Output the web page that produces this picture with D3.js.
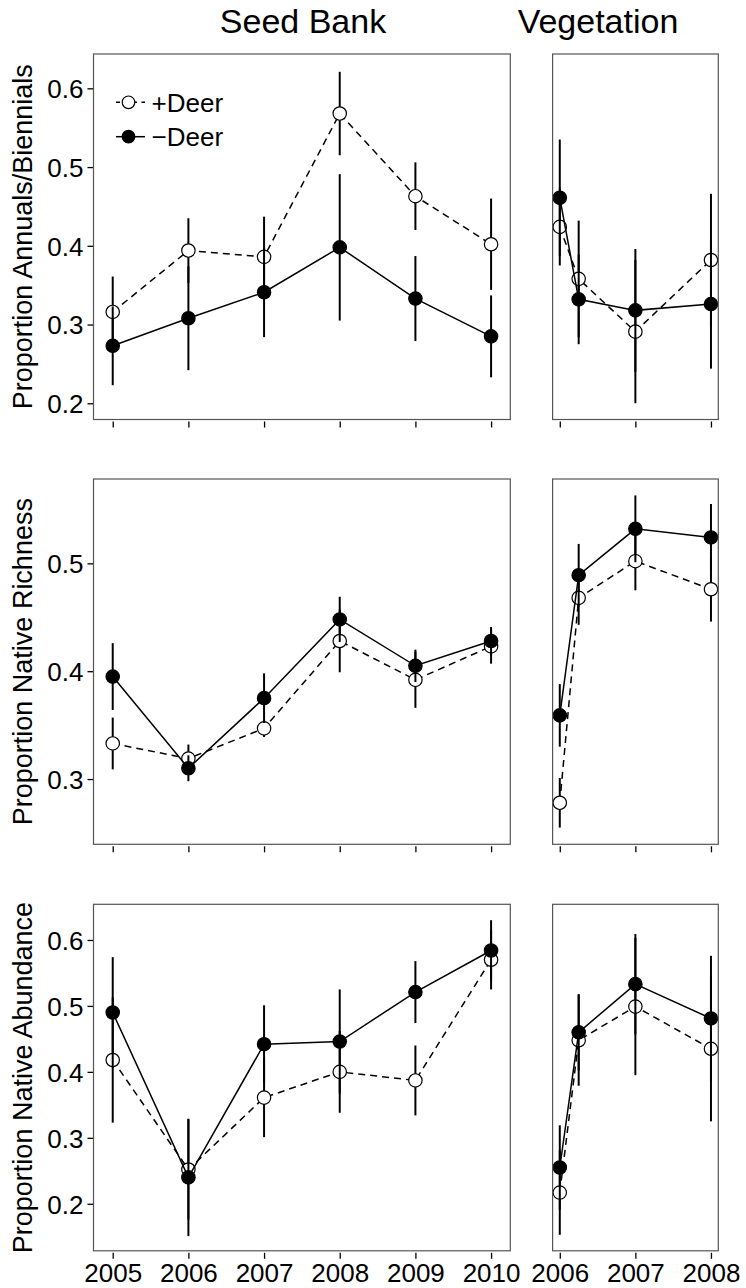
<!DOCTYPE html>
<html>
<head>
<meta charset="utf-8">
<script src="https://cdn.jsdelivr.net/npm/d3@7"></script>
<style>
  html, body { margin: 0; padding: 0; background: #fff; }
  svg { display: block; font-family: "Liberation Sans", Arial, Helvetica, sans-serif; }
</style>
</head>
<body>
<svg id="chart" width="746" height="1288"></svg>
<script>
// ---------- data ----------
const seedYears = [2005, 2006, 2007, 2008, 2009, 2010];
const vegYears = [2006, 2006.25, 2007, 2008];
const seedTickYears = [2005, 2006, 2007, 2008, 2009, 2010];
const vegTickYears = [2006, 2007, 2008];

const columnTitles = ["Seed Bank", "Vegetation"];
const rowTitles = ["Proportion Annuals/Biennials", "Proportion Native Richness", "Proportion Native Abundance"];
const rowTicks = [[0.2, 0.3, 0.4, 0.5, 0.6], [0.3, 0.4, 0.5], [0.2, 0.3, 0.4, 0.5, 0.6]];
const rowDomains = [[0.1794, 0.6436], [0.2395, 0.5782], [0.1287, 0.6541]];
const legendLabels = ["+Deer", "\u2212Deer"];

// Annuals/Biennials
const annSeedPlus = [0.316, 0.394, 0.386, 0.568, 0.463, 0.402];
const annSeedPlusSE = [0.045, 0.041, 0.051, 0.053, 0.043, 0.058];
const annSeedMinus = [0.273, 0.308, 0.341, 0.398, 0.333, 0.285];
const annSeedMinusSE = [0.050, 0.066, 0.057, 0.093, 0.054, 0.052];
const annVegPlus = [0.424, 0.358, 0.291, 0.382];
const annVegPlusSE = [0.049, 0.074, 0.091, 0.084];
const annVegMinus = [0.461, 0.332, 0.318, 0.326];
const annVegMinusSE = [0.074, 0.057, 0.078, 0.082];

// Native Richness
const richSeedPlus = [0.333, 0.319, 0.347, 0.428, 0.392, 0.423];
const richSeedPlusSE = [0.024, 0.013, 0.008, 0.029, 0.026, 0.016];
const richSeedMinus = [0.395, 0.310, 0.375, 0.448, 0.405, 0.428];
const richSeedMinusSE = [0.031, 0.012, 0.023, 0.021, 0.015, 0.013];
const richVegPlus = [0.278, 0.468, 0.502, 0.476];
const richVegPlusSE = [0.023, 0.025, 0.027, 0.030];
const richVegMinus = [0.359, 0.489, 0.532, 0.524];
const richVegMinusSE = [0.029, 0.029, 0.031, 0.031];

// Native Abundance
const abunSeedPlus = [0.418, 0.252, 0.361, 0.400, 0.387, 0.570];
const abunSeedPlusSE = [0.095, 0.076, 0.060, 0.062, 0.053, 0.045];
const abunSeedMinus = [0.490, 0.240, 0.442, 0.446, 0.521, 0.584];
const abunSeedMinusSE = [0.084, 0.089, 0.059, 0.079, 0.047, 0.046];
const abunVegPlus = [0.217, 0.448, 0.499, 0.435];
const abunVegPlusSE = [0.064, 0.069, 0.104, 0.110];
const abunVegMinus = [0.255, 0.460, 0.533, 0.481];
const abunVegMinusSE = [0.064, 0.058, 0.076, 0.095];

// ---------- layout ----------
const svg = d3.select("#chart");
const rowsY = [[54, 419.5], [479, 844.3], [904.3, 1250.8]];
const colsX = [[93.5, 510.3], [552.6, 718.3]];
const colDomains = [[2004.746, 2010.254], [2005.905, 2008.097]];
const colYears = [seedYears, vegYears];
const colTicks = [seedTickYears, vegTickYears];

const rows = [
  { seed: [annSeedPlus, annSeedPlusSE, annSeedMinus, annSeedMinusSE],
    veg: [annVegPlus, annVegPlusSE, annVegMinus, annVegMinusSE] },
  { seed: [richSeedPlus, richSeedPlusSE, richSeedMinus, richSeedMinusSE],
    veg: [richVegPlus, richVegPlusSE, richVegMinus, richVegMinusSE] },
  { seed: [abunSeedPlus, abunSeedPlusSE, abunSeedMinus, abunSeedMinusSE],
    veg: [abunVegPlus, abunVegPlusSE, abunVegMinus, abunVegMinusSE] }
];

const R = 6.7;
const FONT = 26;

function drawSeries(g, x, y, years, means, ses, filled) {
  const pts = years.map((yr, i) => ({ yr, m: means[i], se: ses[i] }));
  const line = d3.line().x(d => x(d.yr)).y(d => y(d.m));
  g.append("path").datum(pts)
    .attr("d", line).attr("fill", "none").attr("stroke", "#000")
    .attr("stroke-width", 1.5)
    .attr("stroke-dasharray", filled ? null : "7,5");
  g.selectAll(null).data(pts).enter().append("line")
    .attr("x1", d => x(d.yr)).attr("x2", d => x(d.yr))
    .attr("y1", d => y(d.m - d.se)).attr("y2", d => y(d.m + d.se))
    .attr("stroke", "#000").attr("stroke-width", 2);
  g.selectAll(null).data(pts).enter().append("circle")
    .attr("cx", d => x(d.yr)).attr("cy", d => y(d.m)).attr("r", R)
    .attr("fill", filled ? "#000" : "#fff")
    .attr("stroke", "#000").attr("stroke-width", 1.2);
}

rows.forEach((row, ri) => {
  const [top, bottom] = rowsY[ri];
  const y = d3.scaleLinear().domain(rowDomains[ri]).range([bottom, top]);
  [row.seed, row.veg].forEach((series, ci) => {
    const [left, right] = colsX[ci];
    const x = d3.scaleLinear().domain(colDomains[ci]).range([left, right]);
    const g = svg.append("g");

    const xAxis = d3.axisBottom(x).tickValues(colTicks[ci]).tickSize(6)
      .tickFormat(ri === 2 ? d3.format("d") : () => "");
    const xg = g.append("g").attr("transform", `translate(0,${bottom + 2})`).call(xAxis);
    xg.select(".domain").remove();
    xg.selectAll(".tick line").attr("stroke", "#000").attr("stroke-width", 1.3);
    xg.selectAll(".tick text").attr("font-size", FONT).attr("fill", "#000")
      .attr("font-family", "Liberation Sans, Arial, sans-serif")
      .attr("y", 0).attr("dy", "1.14em");

    if (ci === 0) {
      const yAxis = d3.axisLeft(y).tickValues(rowTicks[ri]).tickSize(6).tickPadding(4)
        .tickFormat(d3.format(".1f"));
      const yg = g.append("g").attr("transform", `translate(${left},0)`).call(yAxis);
      yg.select(".domain").remove();
      yg.selectAll(".tick line").attr("stroke", "#000").attr("stroke-width", 1.3);
      yg.selectAll(".tick text").attr("font-size", FONT).attr("fill", "#000")
        .attr("font-family", "Liberation Sans, Arial, sans-serif")
        .attr("dy", "0.36em");
      svg.append("text")
        .attr("transform", `translate(32,${(top + bottom) / 2}) rotate(-90)`)
        .attr("text-anchor", "middle").attr("font-size", 27).attr("fill", "#000")
        .text(rowTitles[ri]);
    }

    drawSeries(g, x, y, colYears[ci], series[0], series[1], false);
    drawSeries(g, x, y, colYears[ci], series[2], series[3], true);

    g.append("rect").attr("x", left).attr("y", top)
      .attr("width", right - left).attr("height", bottom - top)
      .attr("fill", "none").attr("stroke", "#555").attr("stroke-width", 1.2);
  });
});

svg.append("text").attr("x", 303).attr("y", 33).attr("text-anchor", "middle")
  .attr("font-size", 34).attr("fill", "#000").text(columnTitles[0]);
svg.append("text").attr("x", 598).attr("y", 33).attr("text-anchor", "middle")
  .attr("font-size", 34).attr("fill", "#000").text(columnTitles[1]);

const legendY = [102.3, 136.7];
legendLabels.forEach((lab, i) => {
  const lg = svg.append("g");
  lg.append("line").attr("x1", 116).attr("x2", 145).attr("y1", legendY[i]).attr("y2", legendY[i])
    .attr("stroke", "#000").attr("stroke-width", 1.5)
    .attr("stroke-dasharray", i === 0 ? "4,4.5" : null);
  lg.append("circle").attr("cx", 128.5).attr("cy", legendY[i]).attr("r", 6.3)
    .attr("fill", i === 0 ? "#fff" : "#000").attr("stroke", "#000").attr("stroke-width", 1.2);
  lg.append("text").attr("x", 151.5).attr("y", legendY[i]).attr("dy", "0.36em")
    .attr("font-size", FONT).attr("fill", "#000").text(lab);
});
</script>
</body>
</html>
